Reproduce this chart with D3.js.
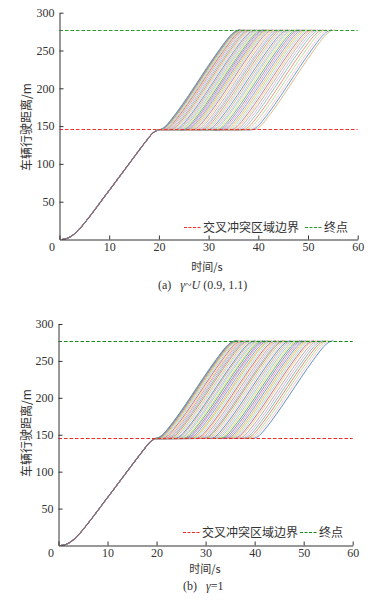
<!DOCTYPE html>
<html><head><meta charset="utf-8">
<script src="https://cdn.jsdelivr.net/npm/d3@7"></script>
<style>body{margin:0;background:#fff}svg{display:block}</style></head>
<body>
<script>
// ---------- data ----------
const xTicks = [0, 10, 20, 30, 40, 50, 60];
const yTicks = [50, 100, 150, 200, 250, 300];
const boundaryValue = 146;
const endValue = 277.5;
// shared approach trajectory (time s, distance m)
const approachT = [0.5, 1, 1.5, 2, 2.5, 3, 3.5, 4, 4.5, 5, 10, 15, 18, 18.5, 19, 19.5];
const approachD = [0, 0.5, 1.5, 3, 5, 7.5, 10.5, 14, 17.5, 21.5, 65, 109, 135, 139, 142, 144];
// departure profile after leaving the boundary (time since departure, distance)
const climbDt = [0, 0.5, 1, 1.5, 2, 2.5, 12.5, 13, 13.5, 14, 14.5, 15, 15.5, 16, 16.5];
const climbD  = [145, 145.5, 146.9, 149.3, 152.5, 156.5, 251.5, 256, 260.5, 264.8, 268.7, 272, 274.7, 276.4, 277.5];
// departure times of each vehicle
const departA = [19.7,19.8,19.9,20.0,20.1,20.3,20.5,20.7,20.9,21.1,21.4,21.7,22.0,22.3,22.6,22.9,23.2,23.5,23.8,24.1,24.4,24.7,25.0,25.3,25.6,25.9,26.2,26.5,26.9,27.3,27.7,28.0,28.4,28.8,29.1,29.5,29.9,30.3,30.6,31.0,31.4,31.8,32.2,32.6,33.0,33.4,33.8,34.2,34.6,35.0,35.5,36.0,36.6,37.2,37.8,38.3,38.8];
const departB = [19.6,19.7,19.8,19.9,20.1,20.3,20.6,20.9,21.2,21.5,21.8,22.1,22.4,22.8,23.1,23.5,23.8,24.2,24.5,24.9,25.2,25.6,25.9,26.3,26.7,27.0,27.4,27.8,28.1,28.5,28.9,29.3,29.6,30.0,30.4,30.8,31.2,31.6,32.0,32.4,32.8,33.2,33.6,34.0,34.4,34.8,35.2,35.6,36.0,36.5,37.0,37.5,38.0,38.5,39.0,39.5];
const legendLabels = ["交叉冲突区域边界", "终点"];
const xLabel = "时间/s";
const yLabel = "车辆行驶距离/m";

const palette = ["#4f9d7f","#8b7cc0","#e98aa8","#5b9bd5","#f2a65a","#b9cf6a","#9fd0ec","#c9607a",
  "#f6c77a","#a6a6a6","#d7a6d9","#73b7a4","#e8776a","#a8d68a","#f5bcc9","#4a86c5","#d2ac70",
  "#c3b3e6","#8fc9b0","#e6d35e"];

// ---------- layout ----------
const W = 385, H = 602;
const svg = d3.select("body").append("svg").attr("width", W).attr("height", H);
const serif = "'Liberation Serif','DejaVu Serif',serif";
const cjk = "'Noto Sans CJK SC','Noto Sans',sans-serif";

const panels = [
  {x0: 59.5, x1: 357.7, y0: 239.5, y1: 12.7, departs: departA, redC: "#f03030", greenC: "#2a9a2a",
   op: 0.8, legY: 227.5, legX: 184, xLabY: 267, xLabX: 207, yLabY: 127, capY: 285, cap: "a"},
  {x0: 58.5, x1: 352.7, y0: 545.5, y1: 324, departs: departB, redC: "#f02828", greenC: "#138c13",
   op: 0.9, legY: 532.5, legX: 183, xLabY: 569, xLabX: 205, yLabY: 433, capY: 586, cap: "b"}
];

panels.forEach(p => {
  const x = d3.scaleLinear().domain([0, 60]).range([p.x0, p.x1]);
  const y = d3.scaleLinear().domain([0, 300]).range([p.y0, p.y1]);
  const g = svg.append("g");
  const line = d3.line().x(d => x(d[0])).y(d => y(d[1])).curve(d3.curveMonotoneX);

  // vehicle trajectories
  const paths = p.departs.map(td => {
    const pts = approachT.map((t, i) => [t, approachD[i]]);
    if (td > 20.6) pts.push([20.2, 144.8]);
    climbDt.forEach((dt, i) => pts.push([td + dt, climbD[i]]));
    return pts;
  });
  g.append("g").selectAll("path").data(paths.slice().reverse()).join("path")
    .attr("d", line).attr("fill", "none")
    .attr("stroke", (d, i) => palette[(paths.length - 1 - i) % palette.length])
    .attr("stroke-width", 1).attr("stroke-opacity", p.op);
  // shared approach segment
  g.append("path").datum(approachT.map((t, i) => [t, approachD[i]]))
    .attr("d", line).attr("fill", "none").attr("stroke", "#8c6b7d").attr("stroke-width", 1.1);

  // boundary & end lines
  [[boundaryValue, p.redC], [endValue, p.greenC]].forEach(([v, c]) => {
    const yy = Math.round(y(v)) + 0.5;
    g.append("line").attr("x1", x(0)).attr("x2", x(60)).attr("y1", yy).attr("y2", yy)
      .attr("stroke", c).attr("stroke-width", 1.2).attr("stroke-dasharray", "3.5,2");
  });

  // axes
  const ax = g.append("g").attr("transform", `translate(0,${p.y0})`)
    .call(d3.axisBottom(x).tickValues(xTicks).tickSizeInner(-4).tickSizeOuter(0).tickPadding(3));
  ax.selectAll(".tick").filter(d => d === 0).select("text").attr("dx", -8);
  const ay = g.append("g").attr("transform", `translate(${p.x0},0)`)
    .call(d3.axisLeft(y).tickValues(yTicks).tickSizeInner(-4).tickSizeOuter(0).tickPadding(5));
  [ax, ay].forEach(a => {
    a.select(".domain").attr("stroke", "#333");
    a.selectAll(".tick line").attr("stroke", "#333");
    a.selectAll("text").attr("font-family", serif).attr("font-size", 12).attr("fill", "#333");
  });

  // axis labels
  g.append("text").attr("x", p.xLabX).attr("y", p.xLabY).attr("dy", "0.35em")
    .attr("text-anchor", "middle").attr("font-family", cjk).attr("font-size", 11).attr("fill", "#333")
    .text(xLabel);
  g.append("text").attr("transform", `translate(27,${p.yLabY}) rotate(-90)`).attr("dy", "0.35em")
    .attr("text-anchor", "middle").attr("font-family", cjk).attr("font-size", 12).attr("fill", "#333")
    .text(yLabel);

  // legend
  const lg = g.append("g").attr("transform", `translate(${p.legX},${p.legY})`);
  lg.append("line").attr("x1", 0).attr("x2", 17).attr("stroke", p.redC).attr("stroke-width", 1.2)
    .attr("stroke-dasharray", "3,1.5");
  lg.append("text").attr("x", 19).attr("dy", "0.35em").attr("font-family", cjk).attr("font-size", 12)
    .attr("fill", "#333").text(legendLabels[0]);
  const gx = p.cap === "a" ? 121 : 117;
  lg.append("line").attr("x1", gx).attr("x2", gx + 17).attr("stroke", p.greenC).attr("stroke-width", 1.2)
    .attr("stroke-dasharray", "3,1.5");
  lg.append("text").attr("x", gx + 19).attr("dy", "0.35em").attr("font-family", cjk).attr("font-size", 12)
    .attr("fill", "#333").text(legendLabels[1]);

  // caption
  const cap = g.append("text").attr("y", p.capY).attr("dy", "0.35em")
    .attr("font-family", serif).attr("font-size", 12).attr("fill", "#333");
  if (p.cap === "a") {
    cap.attr("x", 158);
    cap.append("tspan").text("(a)");
    cap.append("tspan").attr("dx", 9).attr("font-style", "italic").text("γ");
    cap.append("tspan").text("~");
    cap.append("tspan").attr("font-style", "italic").text("U");
    cap.append("tspan").text(" (0.9, 1.1)");
  } else {
    cap.attr("x", 183);
    cap.append("tspan").text("(b)");
    cap.append("tspan").attr("dx", 9).attr("font-style", "italic").text("γ");
    cap.append("tspan").text("=1");
  }
});
</script>
</body></html>
